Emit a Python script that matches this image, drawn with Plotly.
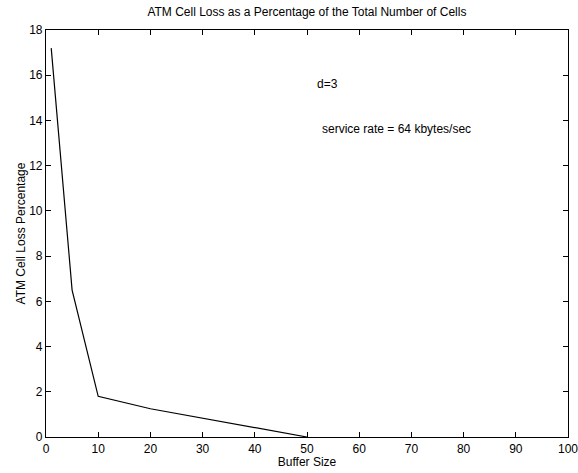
import plotly.graph_objects as go

buffer_size = [1, 5, 10, 20, 50]
loss_pct = [17.2, 6.5, 1.8, 1.25, 0.0]
x_ticks = [0, 10, 20, 30, 40, 50, 60, 70, 80, 90, 100]
y_ticks = [0, 2, 4, 6, 8, 10, 12, 14, 16, 18]

font = "Liberation Sans, Arial, Helvetica, sans-serif"
fs = 12

fig = go.Figure()
fig.add_trace(go.Scatter(x=buffer_size, y=loss_pct, mode="lines",
                         line=dict(color="black", width=1.2), showlegend=False))

fig.add_annotation(x=51.5, y=15.6, text="d=3", showarrow=False, xanchor="left",
                   font=dict(family=font, size=fs, color="black"))
fig.add_annotation(x=52.5, y=13.6, text="service rate = 64 kbytes/sec", showarrow=False,
                   xanchor="left", font=dict(family=font, size=fs, color="black"))

axis_common = dict(showgrid=False, zeroline=False, showline=True, linecolor="black",
                   linewidth=1.2, mirror="ticks", ticks="inside", ticklen=5,
                   tickcolor="black", tickwidth=1, automargin=False,
                   ticklabeloverflow="allow",
                   tickfont=dict(family=font, size=fs, color="black"))

fig.update_layout(
    width=578, height=473,
    margin=dict(l=46, r=10, t=30, b=36),
    paper_bgcolor="white", plot_bgcolor="white",
    title=dict(text="ATM Cell Loss as a Percentage of the Total Number of Cells",
               x=0.531, xanchor="center", y=0.975, yanchor="middle",
               font=dict(family=font, size=fs, color="black")),
    xaxis=dict(range=[0, 100], tickvals=x_ticks, **axis_common,
               title=dict(text="Buffer Size", standoff=0,
                          font=dict(family=font, size=fs, color="black"))),
    yaxis=dict(range=[0, 18], tickvals=y_ticks, **axis_common,
               title=dict(text="ATM Cell Loss Percentage", standoff=0,
                          font=dict(family=font, size=fs, color="black"))),
)

fig.write_html("out.html")
